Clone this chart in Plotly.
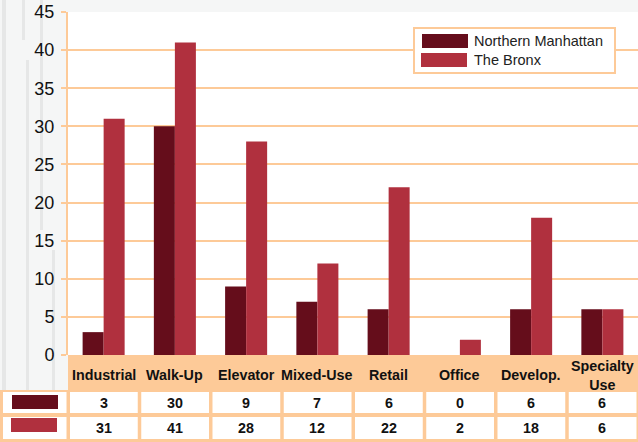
import plotly.graph_objects as go

categories = ["Industrial", "Walk-Up", "Elevator", "Mixed-Use", "Retail", "Office", "Develop.", "Specialty<br>Use"]
northern_manhattan = [3, 30, 9, 7, 6, 0, 6, 6]
the_bronx = [31, 41, 28, 12, 22, 2, 18, 6]
series_names = ["Northern Manhattan", "The Bronx"]
y_ticks = [0, 5, 10, 15, 20, 25, 30, 35, 40, 45]

DARK = "#650d1b"
RED = "#b0303e"
PEACH = "#fdca98"
FONT = "Liberation Sans, Arial, sans-serif"

W, H = 638, 442
PL, PR, PT, PB = 68, 638, 12, 355
PW, PH = PR - PL, PB - PT


def px_x(px):
    return (px - PL) / PW


def px_y(py):
    return (PB - py) / PH


idx = list(range(len(categories)))

fig = go.Figure()
fig.add_trace(go.Bar(x=idx, y=northern_manhattan, name=series_names[0],
                     marker=dict(color=DARK, line=dict(width=0)), showlegend=False))
fig.add_trace(go.Bar(x=idx, y=the_bronx, name=series_names[1],
                     marker=dict(color=RED, line=dict(width=0)), showlegend=False))

shapes = []
# background texture streaks (left strip)
for x0, x1, y0, y1 in [(2, 6, 0, 390), (26, 29, 60, 390), (40, 43, 0, 230), (22, 25, 0, 40), (52, 55, 250, 390)]:
    shapes.append(dict(type="rect", xref="paper", yref="paper", x0=px_x(x0), x1=px_x(x1),
                       y0=px_y(y1), y1=px_y(y0), fillcolor="#e6e7e7", line=dict(width=0), layer="below"))

# category band
shapes.append(dict(type="rect", xref="paper", yref="paper", x0=px_x(PL), x1=px_x(638),
                   y0=px_y(390), y1=px_y(355), fillcolor=PEACH, line=dict(width=0), layer="above"))
# table background (borders)
shapes.append(dict(type="rect", xref="paper", yref="paper", x0=px_x(0), x1=px_x(638),
                   y0=px_y(442), y1=px_y(390), fillcolor=PEACH, line=dict(width=0), layer="above"))
col_edges = [0] + [PL + i * PW / len(categories) for i in range(len(categories) + 1)]
rows = [(392, 413), (417, 439)]
for ci in range(len(col_edges) - 1):
    for (ry0, ry1) in rows:
        shapes.append(dict(type="rect", xref="paper", yref="paper",
                           x0=px_x(col_edges[ci] + 2 if ci else 3), x1=px_x(col_edges[ci + 1] - 1.5),
                           y0=px_y(ry1), y1=px_y(ry0), fillcolor="white", line=dict(width=0), layer="above"))
# table swatches
shapes.append(dict(type="rect", xref="paper", yref="paper", x0=px_x(12), x1=px_x(58),
                   y0=px_y(409), y1=px_y(395), fillcolor=DARK, line=dict(width=0), layer="above"))
shapes.append(dict(type="rect", xref="paper", yref="paper", x0=px_x(11), x1=px_x(57),
                   y0=px_y(432), y1=px_y(418), fillcolor=RED, line=dict(width=0), layer="above"))
# legend box
shapes.append(dict(type="rect", xref="paper", yref="paper", x0=px_x(414), x1=px_x(615),
                   y0=px_y(73), y1=px_y(28), fillcolor="white", line=dict(color=PEACH, width=2), layer="above"))
shapes.append(dict(type="rect", xref="paper", yref="paper", x0=px_x(422), x1=px_x(468),
                   y0=px_y(48), y1=px_y(34), fillcolor=DARK, line=dict(width=0), layer="above"))
shapes.append(dict(type="rect", xref="paper", yref="paper", x0=px_x(421), x1=px_x(467),
                   y0=px_y(67), y1=px_y(53), fillcolor=RED, line=dict(width=0), layer="above"))

annotations = []
for i, c in enumerate(categories):
    annotations.append(dict(x=i, y=px_y(375), xref="x", yref="paper", text="<b>%s</b>" % c,
                            showarrow=False, xanchor="center", yanchor="middle",
                            font=dict(family=FONT, size=14.3, color="#111")))
    annotations.append(dict(x=i, y=px_y(403), xref="x", yref="paper", text="<b>%d</b>" % northern_manhattan[i],
                            showarrow=False, xanchor="center", yanchor="middle",
                            font=dict(family=FONT, size=14.3, color="#111")))
    annotations.append(dict(x=i, y=px_y(428.5), xref="x", yref="paper", text="<b>%d</b>" % the_bronx[i],
                            showarrow=False, xanchor="center", yanchor="middle",
                            font=dict(family=FONT, size=14.3, color="#111")))
for name, py in zip(series_names, [41, 60]):
    annotations.append(dict(x=px_x(472), y=px_y(py), xref="paper", yref="paper", text=name,
                            showarrow=False, xanchor="left", yanchor="middle",
                            font=dict(family=FONT, size=14.5, color="#222")))

fig.update_layout(
    width=W, height=H,
    margin=dict(l=PL, r=W - PR, t=PT, b=H - PB, pad=0),
    paper_bgcolor="#f5f6f6", plot_bgcolor="white",
    barmode="group", bargap=0.41, bargroupgap=0,
    showlegend=False,
    shapes=shapes, annotations=annotations,
    font=dict(family=FONT),
    xaxis=dict(range=[-0.5, len(categories) - 0.5], showticklabels=False, showgrid=False,
               zeroline=False, showline=False, ticks="", fixedrange=True),
    yaxis=dict(range=[0, 45], tickvals=y_ticks, showgrid=True, gridcolor=PEACH, gridwidth=2,
               zeroline=False, showline=True, linecolor=PEACH, linewidth=2,
               ticks="outside", ticklen=5, tickwidth=2, tickcolor=PEACH,
               tickfont=dict(family=FONT, size=18, color="#111"), ticklabelstandoff=3),
)

fig.write_html("out.html")
